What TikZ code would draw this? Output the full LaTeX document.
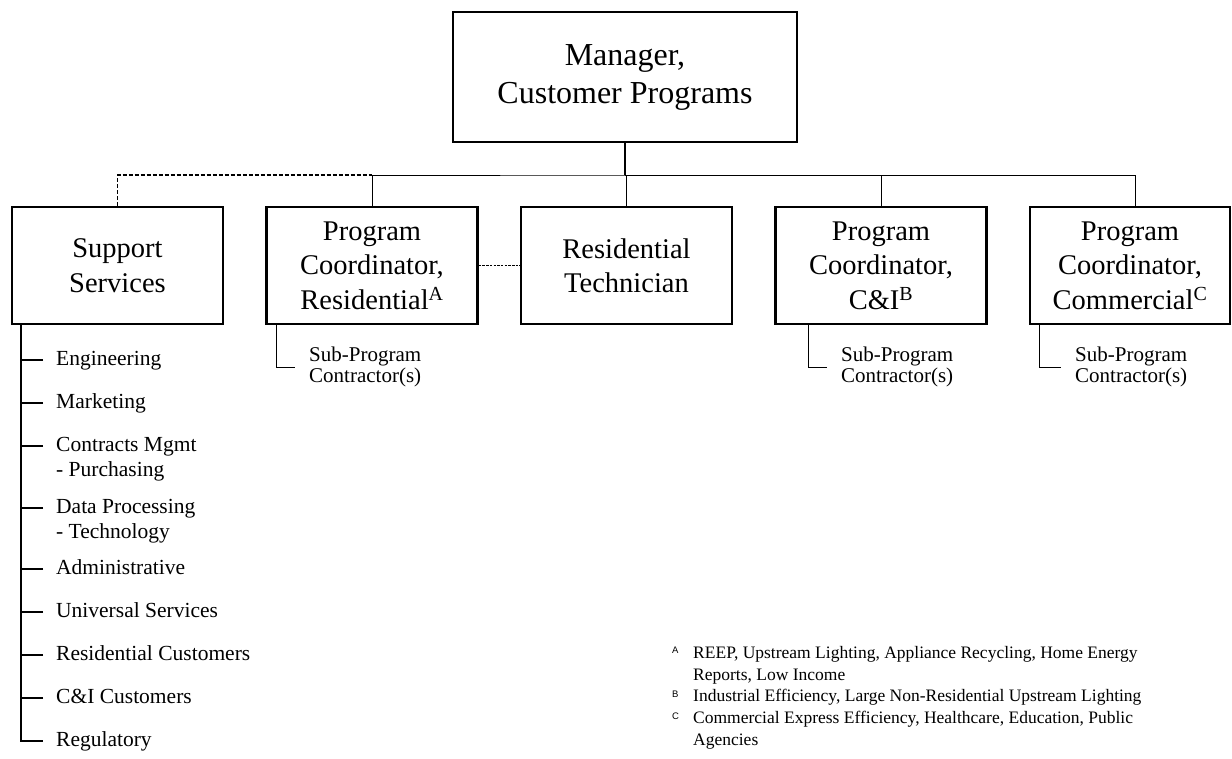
\documentclass[tikz,border=0pt]{standalone}
\usepackage{fontspec}
\setmainfont{Liberation Serif}
\newfontfamily\notesans{Liberation Sans}
\usetikzlibrary{positioning}
\tikzset{pbox/.style={draw,line width=2.4pt,minimum width=211pt,minimum height=117pt,inner sep=0pt,align=center,font=\fontsize{28.5}{34.5}\selectfont},
	 mbox/.style={pbox,minimum width=344pt,minimum height=130pt,font=\fontsize{32}{38}\selectfont},
	 conn/.style={line width=1pt},
	 dline/.style={line width=1.1pt,dash pattern=on 4pt off 2pt},
	 dotline/.style={line width=1.1pt,dash pattern=on 2.5pt off 1.2pt},
	 item/.style={anchor=base west,inner xsep=13pt,inner ysep=0pt,align=left,font=\fontsize{21.5}{25.5}\selectfont},
	 subc/.style={anchor=west,inner xsep=14pt,inner ysep=0pt,align=left,font=\fontsize{21}{21}\selectfont},
	 note/.style={anchor=base west,inner sep=0pt,align=left,font=\fontsize{17.5}{22}\selectfont},
	 fnletter/.style={anchor=base west,inner sep=0pt,font=\notesans\fontsize{9.5}{9.5}\selectfont},
	 node distance = 41.1pt
	 }

\begin{document}
\begin{tikzpicture}[x=1pt,y=-1pt]
	\useasboundingbox (0,0) rectangle (1232,758);
	\node[mbox] (mgr) at (625,77) {Manager,\\Customer Programs};
	\node[pbox] (sup) at (117.5,265.5) {Support\\Services};
	\node[pbox] (rc) [right= of sup] {Program\\Coordinator,\\Residential\textsuperscript{A}};
	\node[pbox] (rt) [right= of rc] {Residential\\Technician};
	\node[pbox] (ci) [right= of rt] {Program\\Coordinator,\\C\&I\textsuperscript{B}};
	\node[pbox,minimum width=200pt] (com) [right= of ci] {Program\\Coordinator,\\Commercial\textsuperscript{C}};
	\coordinate (bus) at (625,175);
	\draw[conn,line width=1.6pt] (mgr) -- (mgr |- bus);
	\draw[conn] (rc) |- (bus) -| (ci);
	\draw[conn] (bus) -| ([xshift=5pt]com.north);
	\draw[conn] (bus -| rt) -- (rt);
	\draw[dline] (sup) |- (rc |- bus);
	\draw[dotline] (rc) -- (rt);
	% sub-program contractors
	\node[subc] (src) at (295,367) {Sub-Program\\Contractor(s)};
	\node[subc] (sci) at (827,367) {Sub-Program\\Contractor(s)};
	\node[subc] (scm) at (1061,367) {Sub-Program\\Contractor(s)};
	\draw[conn] ([xshift=11pt]rc.south west) |- (src);
	\draw[conn] ([xshift=34pt]ci.south west) |- (sci);
	\draw[conn] ([xshift=11pt]com.south west) |- (scm);
	% support services list (two-line items sit on their last line)
	\node[item] (eng) at (43,365) {Engineering};
	\node[item] (mkt) at (43,408) {Marketing};
	\node[item] (con) at (43,476.5) {Contracts Mgmt\\- Purchasing};
	\node[item] (dat) at (43,538.5) {Data Processing\\- Technology};
	\node[item] (adm) at (43,574) {Administrative};
	\node[item] (uni) at (43,617) {Universal Services};
	\node[item] (rcu) at (43,660) {Residential Customers};
	\node[item] (cic) at (43,703) {C\&I Customers};
	\node[item] (reg) at (43,746) {Regulatory};
	\draw[conn,line width=2pt] ([xshift=10pt]sup.south west) |- ([yshift=5pt]reg.base west);
	\draw[conn,line width=1.2pt] ([yshift=5pt]eng.base west) -- +(-21,0);
	\draw[conn,line width=1.2pt] ([yshift=5pt]mkt.base west) -- +(-21,0);
	\draw[conn,line width=1.2pt] ([yshift=30.5pt]con.base west) -- +(-21,0);
	\draw[conn,line width=1.2pt] ([yshift=30.5pt]dat.base west) -- +(-21,0);
	\draw[conn,line width=1.2pt] ([yshift=5pt]adm.base west) -- +(-21,0);
	\draw[conn,line width=1.2pt] ([yshift=5pt]uni.base west) -- +(-21,0);
	\draw[conn,line width=1.2pt] ([yshift=5pt]rcu.base west) -- +(-21,0);
	\draw[conn,line width=1.2pt] ([yshift=5pt]cic.base west) -- +(-21,0);
	% footnotes
	\node[fnletter] (ma) at (672,653) {A};
	\node[fnletter] (mb) at (672,697) {B};
	\node[fnletter] (mc) at (672,719) {C};
	\node[note] (na) at (693,680) {REEP, Upstream Lighting, Appliance Recycling, Home Energy\\Reports, Low Income};
	\node[note] (nb) at (693,701) {Industrial Efficiency, Large Non-Residential Upstream Lighting};
	\node[note] (nc) at (693,745) {Commercial Express Efficiency, Healthcare, Education, Public\\Agencies};
\end{tikzpicture}
\end{document}
